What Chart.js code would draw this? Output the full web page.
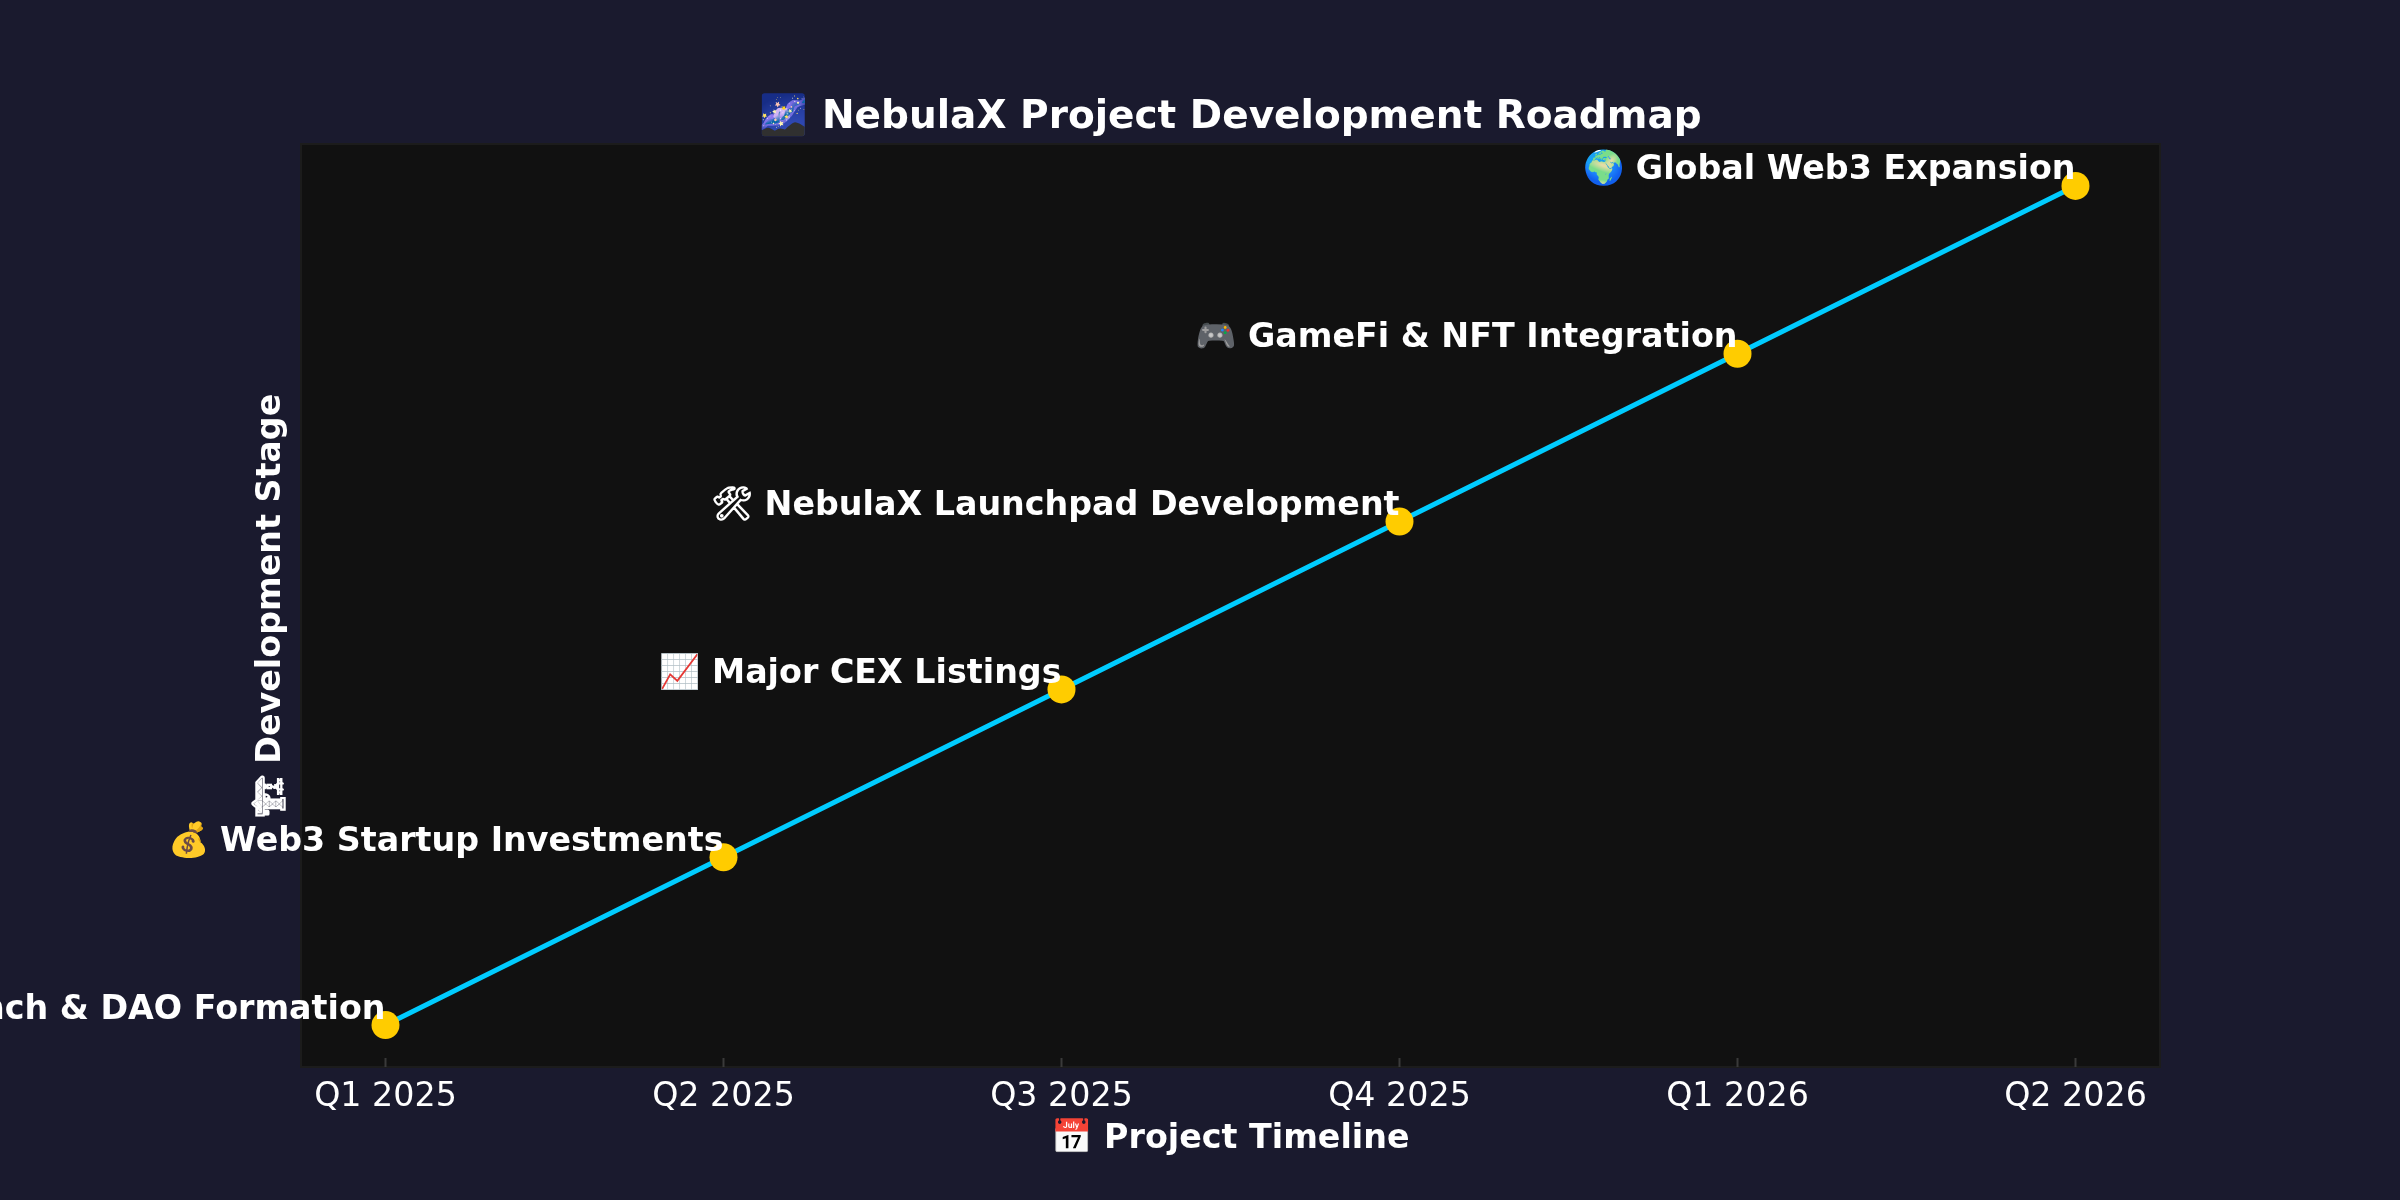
<!DOCTYPE html>
<html>
<head>
<meta charset="utf-8">
<script src="https://cdn.jsdelivr.net/npm/chart.js@4/dist/chart.umd.min.js"></script>
<style>
  html, body { margin: 0; padding: 0; background: #1a1a2e; }
  #wrap { width: 2400px; height: 1200px; }
</style>
</head>
<body>
<div id="wrap"><canvas id="c" width="2400" height="1200"></canvas></div>
<script>
// ---- data ----
const timeline = ['Q1 2025', 'Q2 2025', 'Q3 2025', 'Q4 2025', 'Q1 2026', 'Q2 2026'];
const stageValues = [1, 2, 3, 4, 5, 6];
const milestones = [
  '🚀 Token Launch & DAO Formation',
  '💰 Web3 Startup Investments',
  '📈 Major CEX Listings',
  '🛠 NebulaX Launchpad Development',
  '🎮 GameFi & NFT Integration',
  '🌍 Global Web3 Expansion'
];
const chartTitle = '🌌 NebulaX Project Development Roadmap';
const xTitle = '📅 Project Timeline';
const yTitle = '🏗 Development Stage';

const FONT = "'DejaVu Sans', sans-serif";

const bgPlugin = {
  id: 'bg',
  beforeDraw(chart) {
    const { ctx, chartArea: a } = chart;
    ctx.save();
    ctx.fillStyle = '#1a1a2e';
    ctx.fillRect(0, 0, chart.width, chart.height);
    ctx.fillStyle = '#111111';
    ctx.fillRect(a.left, a.top, a.right - a.left, a.bottom - a.top);
    ctx.strokeStyle = '#1c1c1c';
    ctx.lineWidth = 2;
    ctx.strokeRect(a.left, a.top, a.right - a.left, a.bottom - a.top);
    ctx.restore();
  },
  beforeDatasetsDraw(chart) {
    const { ctx, chartArea: a, scales } = chart;
    ctx.save();
    ctx.strokeStyle = '#3a3a3a';
    ctx.lineWidth = 2;
    timeline.forEach((t, i) => {
      const x = scales.x.getPixelForValue(i);
      ctx.beginPath();
      ctx.moveTo(x, a.bottom - 9);
      ctx.lineTo(x, a.bottom);
      ctx.stroke();
    });
    ctx.restore();
  },
  afterDatasetsDraw(chart) {
    const { ctx } = chart;
    const meta = chart.getDatasetMeta(0);
    ctx.save();
    ctx.font = "bold 33.3px " + FONT;
    ctx.fillStyle = '#ffffff';
    ctx.textAlign = 'right';
    ctx.textBaseline = 'alphabetic';
    meta.data.forEach((pt, i) => {
      ctx.fillText(milestones[i], pt.x, pt.y - 6.5);
    });
    ctx.restore();
  }
};

new Chart(document.getElementById('c'), {
  type: 'line',
  data: {
    datasets: [{
      data: stageValues.map((v, i) => ({ x: i, y: v })),
      borderColor: '#00ccff',
      borderWidth: 5,
      pointRadius: 14,
      pointHoverRadius: 14,
      pointBackgroundColor: '#ffcc00',
      pointBorderWidth: 0,
      tension: 0,
      fill: false
    }]
  },
  options: {
    responsive: false,
    animation: false,
    devicePixelRatio: 1,
    layout: { padding: { left: 0, right: 240, top: 0, bottom: 0 } },
    plugins: {
      legend: { display: false },
      tooltip: { enabled: false },
      title: {
        display: true,
        text: chartTitle,
        fullSize: false,
        color: '#ffffff',
        font: { family: FONT, size: 39, weight: 'bold', lineHeight: 1.2 },
        padding: { top: 94, bottom: 3.2 }
      }
    },
    scales: {
      x: {
        type: 'linear',
        min: -0.25,
        max: 5.25,
        afterFit(s) { s.height = 133; },
        grid: { display: false, drawTicks: false },
        border: { display: false },
        ticks: {
          stepSize: 1,
          includeBounds: false,
          autoSkip: false,
          maxRotation: 0,
          padding: 10,
          color: '#ffffff',
          font: { family: FONT, size: 33.3, lineHeight: 1.2 },
          callback: (v) => (Number.isInteger(v) && timeline[v] !== undefined) ? timeline[v] : ''
        },
        title: {
          display: true,
          text: xTitle,
          color: '#ffffff',
          font: { family: FONT, size: 33.3, weight: 'bold', lineHeight: 1.2 },
          padding: { top: 0, bottom: 41 }
        }
      },
      y: {
        type: 'linear',
        min: 0.75,
        max: 6.25,
        afterFit(s) { s.width = 301; },
        grid: { display: false, drawTicks: false },
        border: { display: false },
        ticks: { display: false },
        title: {
          display: true,
          text: yTitle,
          color: '#ffffff',
          font: { family: FONT, size: 33.3, weight: 'bold', lineHeight: 1.2 },
          padding: { top: 251, bottom: 0 }
        }
      }
    }
  },
  plugins: [bgPlugin]
});
</script>
</body>
</html>
